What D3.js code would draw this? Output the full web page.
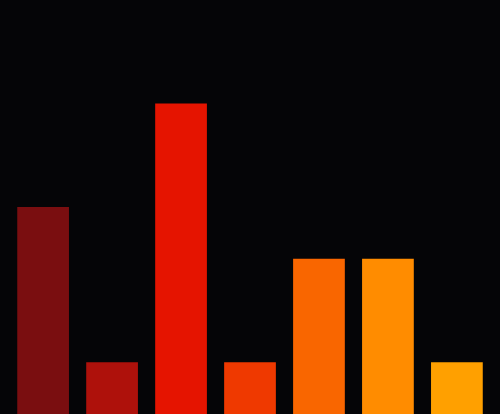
<!DOCTYPE html>
<html><head><meta charset="utf-8">
<script src="https://cdn.jsdelivr.net/npm/d3@7"></script>
<style>html,body{margin:0;padding:0;background:#050507;overflow:hidden}</style>
</head><body>
<svg id="chart" width="500" height="414"></svg>
<script>
const categories = ["A","B","C","D","E","F","G"];
const values = [4,1,6,1,3,3,1];
const colors = ["#7a0e10","#ae110b","#e51400","#ef3900","#f96600","#ff8c00","#ffa000"];

const W = 500, H = 414;
const svg = d3.select("#chart");
svg.append("rect").attr("width",W).attr("height",H).attr("fill","#050507");
const x = d3.scaleBand().domain(categories).range([0,W]).padding(0.25);
const y = d3.scaleLinear().domain([0,8]).range([H,0]);
svg.selectAll("rect.bar").data(values).enter().append("rect")
  .attr("class","bar")
  .attr("x",(d,i)=>x(categories[i]))
  .attr("width",x.bandwidth())
  .attr("y",d=>y(d))
  .attr("height",d=>H-y(d))
  .attr("fill",(d,i)=>colors[i]);
</script>
</body></html>
